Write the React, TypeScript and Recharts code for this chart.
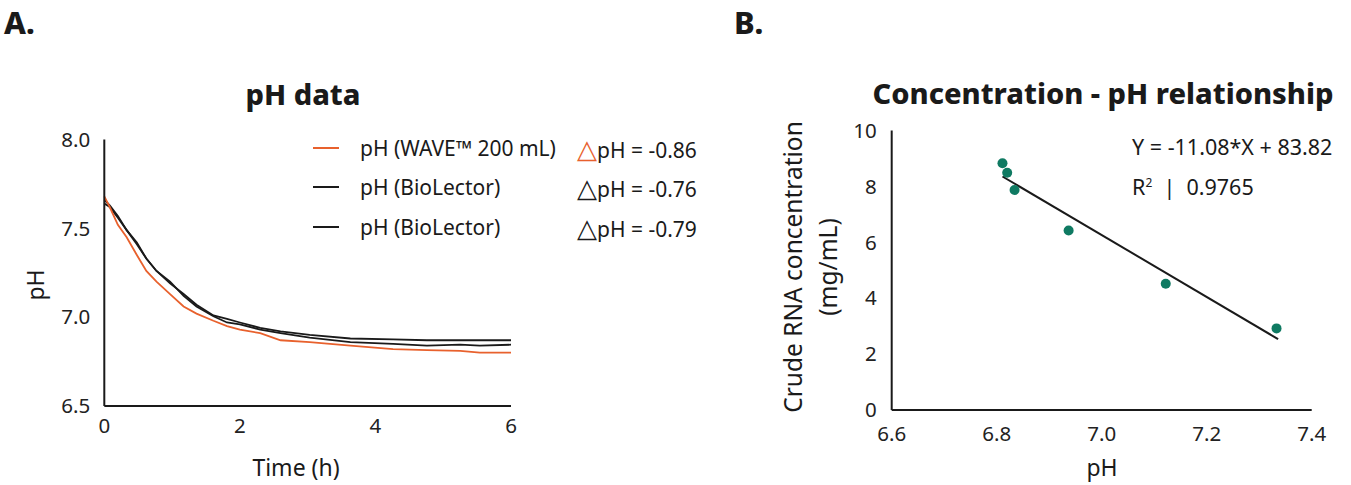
import React from "react";
import { LineChart, Line, XAxis, YAxis, ComposedChart, Scatter, ReferenceLine } from "recharts";

// ---- Panel A data: pH over time ----
const times = [0, 0.08, 0.2, 0.33, 0.48, 0.62, 0.77, 0.97, 1.17, 1.36, 1.61, 1.81, 2.0, 2.3, 2.6, 3.03, 3.63, 4.26, 4.76, 5.25, 5.54, 6.0];
const phWave = [7.68, 7.62, 7.52, 7.45, 7.35, 7.26, 7.2, 7.13, 7.06, 7.02, 6.98, 6.95, 6.93, 6.91, 6.87, 6.86, 6.84, 6.82, 6.815, 6.81, 6.8, 6.8];
const phBio1 = [7.66, 7.63, 7.57, 7.49, 7.42, 7.33, 7.26, 7.19, 7.13, 7.07, 7.01, 6.99, 6.97, 6.94, 6.92, 6.9, 6.88, 6.875, 6.87, 6.87, 6.87, 6.87];
const phBio2 = [7.64, 7.62, 7.56, 7.49, 7.41, 7.33, 7.26, 7.2, 7.12, 7.06, 7.005, 6.97, 6.96, 6.93, 6.91, 6.885, 6.86, 6.85, 6.84, 6.845, 6.84, 6.845];
const timeTicks = [0, 2, 4, 6];
const phTicks = [6.5, 7.0, 7.5, 8.0];

const legendNames = ["pH (WAVE\u2122 200 mL)", "pH (BioLector)", "pH (BioLector)"];
const legendDeltas = ["pH = -0.86", "pH = -0.76", "pH = -0.79"];
const legendColors = ["#e8612d", "#1a1a1a", "#1a1a1a"];

// ---- Panel B data: concentration vs pH ----
const samplePH = [6.811, 6.82, 6.834, 6.937, 7.122, 7.333];
const sampleConc = [8.83, 8.49, 7.87, 6.42, 4.52, 2.92];
const fitSlope = -11.08;
const fitIntercept = 83.82;
const fitRange = [6.811, 7.336];
const bXTicks = [6.6, 6.8, 7.0, 7.2, 7.4];
const bYTicks = [0, 2, 4, 6, 8, 10];

const FONT = "'Noto Sans', Roboto, sans-serif";
const AX = "#1a1a1a";

const lineData = times.map((t, i) => ({ t, wave: phWave[i], bio1: phBio1[i], bio2: phBio2[i] }));
const scatterData = samplePH.map((x, i) => ({ x, y: sampleConc[i] }));
const fitSegment = fitRange.map((x) => ({ x, y: fitSlope * x + fitIntercept }));

const abs = (s: React.CSSProperties): React.CSSProperties => ({ position: "absolute", fontFamily: FONT, color: "#1a1a1a", whiteSpace: "nowrap", ...s });

const Dot = (props: any) => <circle cx={props.cx} cy={props.cy} r={5} fill="#0f7a62" />;
const tickStyle = { fontSize: 20.5, fill: "#222", fontFamily: FONT };

export default function App() {
  return (
    <div style={{ position: "absolute", left: 0, top: 0, width: 1351, height: 485, background: "#fff", overflow: "hidden" }}>
      <div style={abs({ left: 4, top: 2, fontSize: 31, fontWeight: 800, lineHeight: "40px" })}>A.</div>
      <div style={abs({ left: 734, top: 2, fontSize: 31, fontWeight: 800, lineHeight: "40px" })}>B.</div>
      <div style={abs({ left: 303, top: 76, fontSize: 29, fontWeight: 800, transform: "translateX(-50%)", lineHeight: "36px" })}>pH data</div>
      <div style={abs({ left: 1103, top: 75, fontSize: 29, fontWeight: 800, transform: "translateX(-50%)", lineHeight: "36px" })}>Concentration - pH relationship</div>

      <div style={{ position: "absolute", left: 0, top: 0 }}>
        <LineChart width={560} height={485} data={lineData} margin={{ top: 139.5, right: 49, bottom: 49, left: 44.3 }}>
          <XAxis dataKey="t" type="number" domain={[0, 6]} ticks={timeTicks} tickLine={false} tickSize={6} tickMargin={6}
            axisLine={{ stroke: AX, strokeWidth: 2 }} tick={tickStyle} height={30} />
          <YAxis type="number" domain={[6.5, 8.0]} ticks={phTicks} tickFormatter={(v: number) => v.toFixed(1)} tickLine={false} tickSize={6} tickMargin={8}
            axisLine={{ stroke: AX, strokeWidth: 2 }} tick={tickStyle} width={60} allowDataOverflow />
          <Line dataKey="bio1" stroke={legendColors[1]} strokeWidth={1.8} dot={false} isAnimationActive={false} />
          <Line dataKey="bio2" stroke={legendColors[2]} strokeWidth={1.8} dot={false} isAnimationActive={false} />
          <Line dataKey="wave" stroke={legendColors[0]} strokeWidth={1.8} dot={false} isAnimationActive={false} />
        </LineChart>
      </div>

      {legendNames.map((n, i) => (
        <React.Fragment key={i}>
          <div style={{ position: "absolute", left: 313, top: 147 + i * 39.3, width: 26, height: 2, background: legendColors[i] }} />
          <div style={abs({ left: 360, top: 134 + i * 39.3, fontSize: 21, lineHeight: "28px" })}>{n}</div>
          <div style={abs({ left: 577, top: 134 + i * 39.3, fontSize: 21, lineHeight: "28px" })}>
            <span style={{ color: legendColors[i], fontSize: 26, lineHeight: "28px" }}>{"\u25B3"}</span>{legendDeltas[i]}
          </div>
        </React.Fragment>
      ))}

      <div style={abs({ left: 35, top: 285, fontSize: 23, transform: "translate(-50%, -50%) rotate(-90deg)" })}>pH</div>
      <div style={abs({ left: 296, top: 467, fontSize: 23, transform: "translate(-50%, -50%)" })}>Time (h)</div>

      <div style={{ position: "absolute", left: 700, top: 0 }}>
        <ComposedChart width={651} height={485} margin={{ top: 130.5, right: 39.3, bottom: 45, left: 131.7 }}>
          <XAxis dataKey="x" type="number" domain={[6.6, 7.4]} ticks={bXTicks} tickFormatter={(v: number) => v.toFixed(1)} tickLine={false} tickSize={6} tickMargin={10}
            axisLine={{ stroke: AX, strokeWidth: 2 }} tick={tickStyle} height={30} />
          <YAxis dataKey="y" type="number" domain={[0, 10]} ticks={bYTicks} tickLine={false} tickSize={6} tickMargin={9}
            axisLine={{ stroke: AX, strokeWidth: 2 }} tick={tickStyle} width={60} />
          <ReferenceLine segment={fitSegment} stroke={AX} strokeWidth={2} ifOverflow="visible" />
          <Scatter data={scatterData} shape={Dot} isAnimationActive={false} />
        </ComposedChart>
      </div>

      <div style={abs({ left: 1132, top: 133, fontSize: 21.5, lineHeight: "28px" })}>Y = -11.08*X + 83.82</div>
      <div style={abs({ left: 1132, top: 169, fontSize: 21.5, lineHeight: "28px" })}>R<sup style={{ fontSize: 12 }}>2</sup>&nbsp; |&nbsp; 0.9765</div>

      <div style={abs({ left: 792, top: 267, fontSize: 24.5, transform: "translate(-50%, -50%) rotate(-90deg)" })}>Crude RNA concentration</div>
      <div style={abs({ left: 827, top: 267, fontSize: 24.5, transform: "translate(-50%, -50%) rotate(-90deg)" })}>(mg/mL)</div>
      <div style={abs({ left: 1102, top: 467, fontSize: 23, transform: "translate(-50%, -50%)" })}>pH</div>
    </div>
  );
}
